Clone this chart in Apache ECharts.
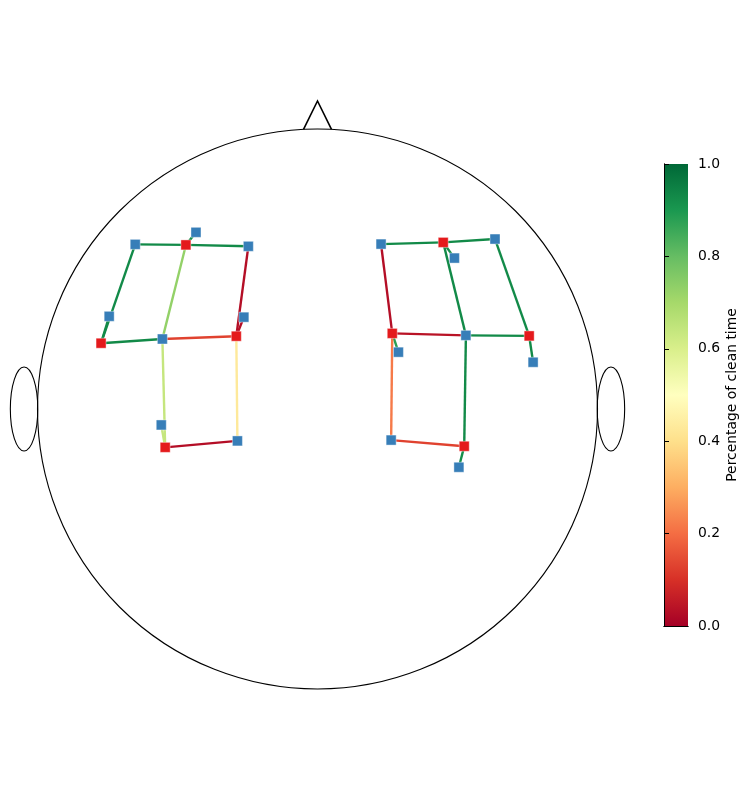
<!DOCTYPE html>
<html><head><meta charset="utf-8">
<script src="https://cdn.jsdelivr.net/npm/echarts@6/dist/echarts.min.js"></script>
<style>html,body{margin:0;padding:0;background:#fff}#c{width:749px;height:790px}</style>
</head><body><div id="c"></div>
<script>
// ---- data (head coordinates, head radius = 1) ----
const sourceNames = ['S1','S2','S3','S4','S5','S6','S7','S8'];
const sourceX = [-0.470,-0.773,-0.290,-0.544, 0.449, 0.267, 0.756, 0.524];
const sourceY = [ 0.586, 0.235, 0.260,-0.137, 0.595, 0.270, 0.261,-0.133];
const detectorNames = ['D1','D2','D3','D4','D5','D6','D7','D8','D9','D10','D11','D12','D13','D14','D15','D16'];
const detectorX = [-0.651,-0.434,-0.247,-0.744,-0.554,-0.263,-0.558,-0.286, 0.227, 0.634, 0.489, 0.289, 0.530, 0.770, 0.263, 0.505];
const detectorY = [ 0.588, 0.631, 0.581, 0.331, 0.250, 0.328,-0.057,-0.114, 0.589, 0.607, 0.539, 0.203, 0.263, 0.167,-0.111,-0.208];
const channelSource   = [0,0,0,0,1,1,1,2,2,2,2,3,3,3, 4,4,4,4,5,5,5,5,6,6,6,7,7,7];
const channelDetector = [0,1,2,4,0,3,4,4,2,5,7,4,6,7, 8,9,10,12,8,12,11,14,9,12,13,12,14,15];
const channelClean    = [0.93,0.92,0.93,0.73,0.93,0.93,0.93,0.13,0.03,0.03,0.43,0.64,0.64,0.03,
                         0.93,0.93,0.92,0.93,0.03,0.04,0.88,0.22,0.93,0.93,0.93,0.93,0.13,0.92];
const colorbarTicks = [0, 0.2, 0.4, 0.6, 0.8, 1.0];
const cmapColors = ['#a50026','#d73027','#f46d43','#fdae61','#fee08b','#ffffbf','#d9ef8b','#a6d96a','#66bd63','#1a9850','#006837'];
const colorbarLabel = 'Percentage of clean time';

// ---- build ----
const channelData = channelClean.map((v, i) => {
  const s = channelSource[i], d = channelDetector[i];
  return [sourceX[s], sourceY[s], detectorX[d], detectorY[d], v];
});
const sourceData = sourceX.map((x, i) => [x, sourceY[i], sourceNames[i]]);
const detectorData = detectorX.map((x, i) => [x, detectorY[i], detectorNames[i]]);

const chart = echarts.init(document.getElementById('c'), null, {renderer: 'canvas'});
const FONT = 'DejaVu Sans';
const HEAD = {earX: 1.048, earRx: 0.049, earRy: 0.15, noseHalf: 0.05, noseTip: 1.1};

function renderHead(params, api) {
  const c = api.coord([0, 0]);
  const s = api.size([1, 1]);
  const k = s[0];
  const baseY = Math.sqrt(1 - HEAD.noseHalf * HEAD.noseHalf);
  const pL = api.coord([-HEAD.noseHalf, baseY]);
  const pT = api.coord([0, HEAD.noseTip]);
  const pR = api.coord([HEAD.noseHalf, baseY]);
  const eL = api.coord([-HEAD.earX, 0]);
  const eR = api.coord([HEAD.earX, 0]);
  const st = {fill: null, stroke: '#000', lineWidth: 1.1};
  return {type: 'group', children: [
    {type: 'circle', shape: {cx: c[0], cy: c[1], r: k}, style: st},
    {type: 'polyline', shape: {points: [pL, pT, pR]}, style: {fill: null, stroke: '#000', lineWidth: 1.6}},
    {type: 'ellipse', shape: {cx: eL[0], cy: eL[1], rx: HEAD.earRx * k, ry: HEAD.earRy * k}, style: st},
    {type: 'ellipse', shape: {cx: eR[0], cy: eR[1], rx: HEAD.earRx * k, ry: HEAD.earRy * k}, style: st}
  ]};
}

function renderChannel(params, api) {
  const p1 = api.coord([api.value(0), api.value(1)]);
  const p2 = api.coord([api.value(2), api.value(3)]);
  return {type: 'line', shape: {x1: p1[0], y1: p1[1], x2: p2[0], y2: p2[1]},
          style: {stroke: api.visual('color'), lineWidth: 2.4, lineCap: 'butt'}};
}

function renderColorbar(params, api) {
  const a = api.coord([0, 1]);
  const b = api.coord([1, 0]);
  const stops = cmapColors.map((c, i) => ({offset: i / (cmapColors.length - 1), color: c}));
  return {type: 'rect', shape: {x: a[0], y: a[1], width: b[0] - a[0], height: b[1] - a[1]},
          style: {fill: {type: 'linear', x: 0, y: 1, x2: 0, y2: 0, colorStops: stops}}};
}

const hidden = {show: false};
const lineBlack = {show: true, lineStyle: {color: '#000', width: 1}};

chart.setOption({
  animation: false,
  backgroundColor: '#fff',
  grid: [
    {left: 9.5, top: 101, width: 616, height: 588},
    {left: 664, top: 164, width: 24, height: 462}
  ],
  xAxis: [
    {type: 'value', gridIndex: 0, min: -1.1, max: 1.1, show: false},
    {type: 'value', gridIndex: 1, min: 0, max: 1, position: 'bottom', z: 10,
     axisLine: lineBlack, axisTick: hidden, axisLabel: hidden, splitLine: hidden},
    {type: 'value', gridIndex: 1, min: 0, max: 1, position: 'top', z: 10,
     axisLine: lineBlack, axisTick: hidden, axisLabel: hidden, splitLine: hidden}
  ],
  yAxis: [
    {type: 'value', gridIndex: 0, min: -1, max: 1.1, show: false},
    {type: 'value', gridIndex: 1, min: 0, max: 1, interval: 0.2, position: 'right', z: 10,
     axisLine: lineBlack,
     axisTick: {show: true, inside: false, length: 5, lineStyle: {color: '#000', width: 1}},
     axisLabel: {show: true, color: '#000', fontSize: 13.9, fontFamily: FONT, margin: 10,
                 formatter: v => v.toFixed(1)},
     splitLine: hidden,
     name: colorbarLabel, nameLocation: 'middle', nameRotate: 90, nameGap: 37,
     nameTextStyle: {color: '#000', fontSize: 13.9, fontFamily: FONT}},
    {type: 'value', gridIndex: 1, min: 0, max: 1, position: 'left', z: 10,
     axisLine: lineBlack, axisTick: hidden, axisLabel: hidden, splitLine: hidden}
  ],
  visualMap: {type: 'continuous', show: false, min: 0, max: 1, dimension: 4, seriesIndex: [1],
              inRange: {color: cmapColors}},
  series: [
    {type: 'custom', xAxisIndex: 0, yAxisIndex: 0, data: [[0, 0]], renderItem: renderHead, clip: false, silent: true, z: 1},
    {type: 'custom', xAxisIndex: 0, yAxisIndex: 0, data: channelData, encode: {x: [0, 2], y: [1, 3]},
     renderItem: renderChannel, clip: false, z: 2},
    {type: 'scatter', xAxisIndex: 0, yAxisIndex: 0, data: detectorData, symbol: 'rect', symbolSize: 10,
     itemStyle: {color: '#377eb8', borderColor: 'rgba(255,255,255,0.5)', borderWidth: 0.8, opacity: 1}, z: 3},
    {type: 'scatter', xAxisIndex: 0, yAxisIndex: 0, data: sourceData, symbol: 'rect', symbolSize: 10,
     itemStyle: {color: '#e41a1c', borderColor: 'rgba(255,255,255,0.5)', borderWidth: 0.8, opacity: 1}, z: 3},
    {type: 'custom', xAxisIndex: 1, yAxisIndex: 1, data: [[0, 0]], renderItem: renderColorbar, clip: false, silent: true, z: 2}
  ]
});
</script>
</body></html>
